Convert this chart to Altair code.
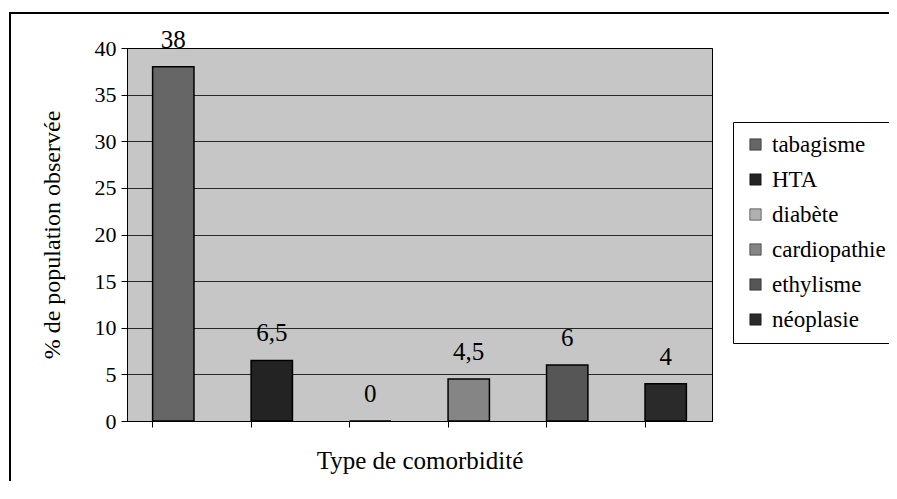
import altair as alt
import pandas as pd

categories = ["tabagisme", "HTA", "diabète", "cardiopathie", "ethylisme", "néoplasie"]
values = [38, 6.5, 0, 4.5, 6, 4]
value_labels = ["38", "6,5", "0", "4,5", "6", "4"]
bar_colors = ["#666666", "#232323", "#b0b0b0", "#858585", "#565656", "#2a2a2a"]

df = pd.DataFrame({"cat": categories, "val": values, "lab": value_labels})

FONT = "Liberation Serif"
W, H = 585, 373

xenc = alt.X("cat:N", sort=categories, title="Type de comorbidité",
             scale=alt.Scale(paddingInner=0.58, paddingOuter=0.26),
             axis=alt.Axis(labels=False, bandPosition=0, tickSize=6, tickColor="black",
                           domainColor="black", titleFontSize=25,
                           titleFontWeight="normal", titleColor="black", titlePadding=21))

bars = alt.Chart(df).mark_bar(stroke="black", strokeWidth=1.5).encode(
    x=xenc,
    y=alt.Y("val:Q", title="% de population observée",
            scale=alt.Scale(domain=[0, 40], nice=False),
            axis=alt.Axis(values=list(range(0, 41, 5)), tickSize=6, tickColor="black",
                          domainColor="black", gridColor="black", gridWidth=0.8,
                          labelFontSize=22, labelColor="black", labelPadding=5,
                          titleFontSize=24, titleFontWeight="normal",
                          titleColor="black", titlePadding=30)),
    color=alt.Color("cat:N", sort=categories,
                    scale=alt.Scale(domain=categories, range=bar_colors),
                    legend=alt.Legend(title=None, orient="none", legendX=606, legendY=74,
                                      symbolType="square", symbolSize=130,
                                      symbolStrokeColor="black", symbolStrokeWidth=0.5,
                                      labelFontSize=23, labelColor="black", labelOffset=5,
                                      rowPadding=11, padding=11, strokeColor="black",
                                      fillColor="white", labelLimit=250)),
)

texts = alt.Chart(df).mark_text(fontSize=25, color="black",
                                baseline="middle", dy=-27).encode(
    x=alt.X("cat:N", sort=categories),
    y=alt.Y("val:Q"),
    text="lab:N",
)

border = alt.Chart(df).mark_rect(filled=False, stroke="black", strokeWidth=2).encode(
    x=alt.value(-117), x2=alt.value(W + 200), y=alt.value(-35), y2=alt.value(H + 200)
)

chart = alt.layer(border, bars, texts).properties(
    width=W, height=H,
    padding={"left": 119, "top": 40, "right": 177, "bottom": 60},
    autosize=alt.AutoSizeParams(type="none"),
).configure(font=FONT).configure_axis(
    labelFont=FONT, titleFont=FONT
).configure_legend(labelFont=FONT).configure_text(font=FONT).configure_view(
    fill="#c6c6c6", stroke="black", strokeWidth=1)

chart.save("out.html", embed_options={"renderer": "svg", "actions": False})
